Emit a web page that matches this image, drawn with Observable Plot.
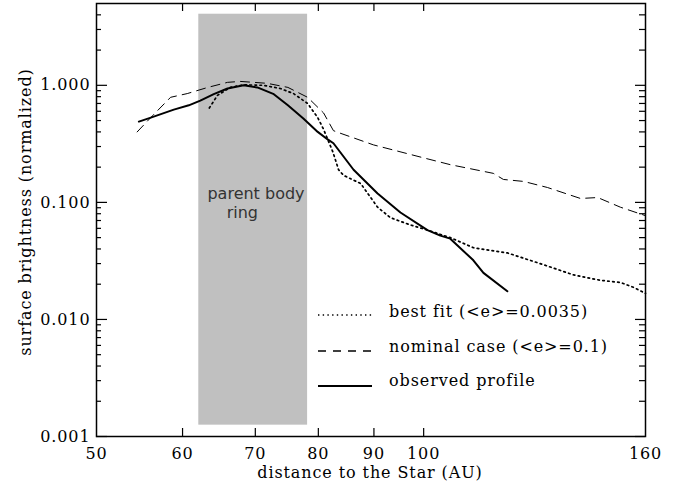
<!DOCTYPE html>
<html><head><meta charset="utf-8">
<script src="https://cdn.jsdelivr.net/npm/d3@7"></script>
<script src="https://cdn.jsdelivr.net/npm/@observablehq/plot@0.6"></script>
<style>
body{margin:0;background:#fff}
#chart{position:relative;width:677px;height:488px}
#chart svg text.serif{letter-spacing:0.9px}
</style>
</head><body><div id="chart"></div>
<script>
// observed profile
const distObs = [54.7, 56.1, 58.9, 60.8, 62.3, 64.1, 66.0, 68.3, 70.3, 72.8, 75.0, 77.5, 79.9, 81.6, 82.6, 86.2, 90.7, 95.2, 100.8, 103.6, 105.8, 111.1, 113.5, 119.4];
const obs     = [0.49, 0.53, 0.62, 0.675, 0.74, 0.84, 0.94, 1.0, 0.96, 0.84, 0.675, 0.52, 0.40, 0.345, 0.32, 0.19, 0.119, 0.082, 0.058, 0.052, 0.049, 0.032, 0.025, 0.0174];
// nominal case (<e>=0.1)
const distNom = [54.5, 56.3, 58.5, 60.6, 63.3, 66.0, 67.8, 71.8, 75.0, 78.2, 80.9, 82.6, 83.8, 89.9, 100, 105.8, 115.9, 118.4, 123.6, 130, 139.4, 144.6, 151.7, 160];
const nom     = [0.40, 0.55, 0.79, 0.85, 0.96, 1.06, 1.08, 1.04, 0.96, 0.79, 0.58, 0.41, 0.39, 0.31, 0.24, 0.21, 0.177, 0.157, 0.151, 0.134, 0.108, 0.110, 0.091, 0.077];
// best fit (<e>=0.0035)
const distFit = [63.5, 64.6, 66.4, 68.3, 71.2, 73.8, 75.9, 78.2, 79.9, 80.9, 82.5, 83.5, 84.4, 87.5, 90.7, 93.2, 97.3, 100.8, 105.8, 111.1, 119.4, 128, 137.4, 145.4, 151.7, 156, 160];
const fit     = [0.64, 0.82, 0.96, 1.01, 1.0, 0.94, 0.85, 0.70, 0.53, 0.42, 0.27, 0.19, 0.17, 0.145, 0.091, 0.074, 0.064, 0.058, 0.050, 0.041, 0.037, 0.030, 0.024, 0.0216, 0.0207, 0.0188, 0.0167];
// parent body ring band
const ringX = [62.1, 78.2];
const ringY = [0.00125, 4.05];
// axis ticks
const xLabels = [50, 60, 70, 80, 90, 100, 160];
const xTicks = [60, 70, 80, 90, 100];
const yMajor = [0.001, 0.01, 0.1, 1];
const yMinor = [0.002,0.003,0.004,0.005,0.006,0.007,0.008,0.009,0.02,0.03,0.04,0.05,0.06,0.07,0.08,0.09,0.2,0.3,0.4,0.5,0.6,0.7,0.8,0.9,2,3,4];
const legendLabels = ["best fit (<e>=0.0035)", "nominal case (<e>=0.1)", "observed profile"];

const W = 677, H = 488, mL = 96, mR = 32, mT = 3, mB = 52;
const iw = W - mL - mR, ih = H - mT - mB;
const serif = "'DejaVu Serif', serif";
const toRows = (xs, ys) => xs.map((d, i) => ({d, v: ys[i]}));

const plot = Plot.plot({
  width: W, height: H, marginLeft: mL, marginRight: mR, marginTop: mT, marginBottom: mB,
  style: {fontFamily: serif, fontSize: "16px", color: "black", background: "white"},
  x: {type: "log", domain: [50, 160]},
  y: {type: "log", domain: [0.001, 5]},
  marks: [
    Plot.rect([{x1: ringX[0], x2: ringX[1], y1: ringY[0], y2: ringY[1]}], {x1: "x1", x2: "x2", y1: "y1", y2: "y2", fill: "#c0c0c0"}),
    Plot.text(["parent body"], {x: 70.1, y: 0.119, text: d => d, fontFamily: "'DejaVu Sans', sans-serif", fontSize: 16, fill: "#333", letterSpacing: 0.3}),
    Plot.text(["ring"], {x: 68.1, y: 0.082, text: d => d, fontFamily: "'DejaVu Sans', sans-serif", fontSize: 16, fill: "#333"}),
    Plot.line(toRows(distFit, fit), {x: "d", y: "v", stroke: "black", strokeWidth: 1.7, strokeDasharray: "1.6,3.4"}),
    Plot.line(toRows(distNom, nom), {x: "d", y: "v", stroke: "black", strokeWidth: 1, strokeDasharray: "9,6"}),
    Plot.line(toRows(distObs, obs), {x: "d", y: "v", stroke: "black", strokeWidth: 2}),
    Plot.tickX(xTicks, {x: d => d, insetTop: ih - 8, stroke: "black", strokeWidth: 1.2}),
    Plot.tickX(xTicks, {x: d => d, insetBottom: ih - 8, stroke: "black", strokeWidth: 1.2}),
    Plot.tickY(yMajor, {y: d => d, insetRight: iw - 11, stroke: "black", strokeWidth: 1.2}),
    Plot.tickY(yMinor, {y: d => d, insetRight: iw - 5, stroke: "black", strokeWidth: 1.2}),
    Plot.tickY(yMajor, {y: d => d, insetLeft: iw - 10, stroke: "black", strokeWidth: 1.2}),
    Plot.tickY(yMinor, {y: d => d, insetLeft: iw - 6, stroke: "black", strokeWidth: 1.2}),
    Plot.axisX(xLabels, {tickSize: 0, tickPadding: 11, tickFormat: d => String(d), label: null, fontSize: 16}),
    Plot.axisY(yMajor, {tickSize: 0, tickPadding: 6, tickFormat: d => d.toFixed(3), label: null, fontSize: 16}),
    Plot.frame({stroke: "black", strokeWidth: 1.5})
  ]
});
document.getElementById("chart").appendChild(plot);

const svg = d3.select(plot);
svg.selectAll("g[aria-label='x-axis tick label'] text, g[aria-label='y-axis tick label'] text").attr("class", "serif");
// axis titles
svg.append("text").attr("class", "serif")
  .attr("x", 370).attr("y", 478)
  .attr("text-anchor", "middle").attr("font-family", serif).attr("font-size", 16)
  .text("distance to the Star (AU)");
svg.append("text").attr("class", "serif")
  .attr("transform", "translate(31,212) rotate(-90)")
  .attr("text-anchor", "middle").attr("font-family", serif).attr("font-size", 16)
  .text("surface brightness (normalized)");
// legend
const styles = [
  {w: 1.5, dash: "1.4,3.3", ly: 315, ty: 317},
  {w: 1.3, dash: "8,7", ly: 351, ty: 352},
  {w: 2, dash: null, ly: 386, ty: 386}
];
const lg = svg.append("g");
legendLabels.forEach((t, i) => {
  const s = styles[i];
  lg.append("line").attr("x1", 318).attr("x2", 372).attr("y1", s.ly).attr("y2", s.ly)
    .attr("stroke", "black").attr("stroke-width", s.w).attr("stroke-dasharray", s.dash);
  lg.append("text").attr("class", "serif").attr("x", 389).attr("y", s.ty)
    .attr("text-anchor", "start")
    .attr("font-family", serif).attr("font-size", 16).text(t);
});
</script>
</body></html>
